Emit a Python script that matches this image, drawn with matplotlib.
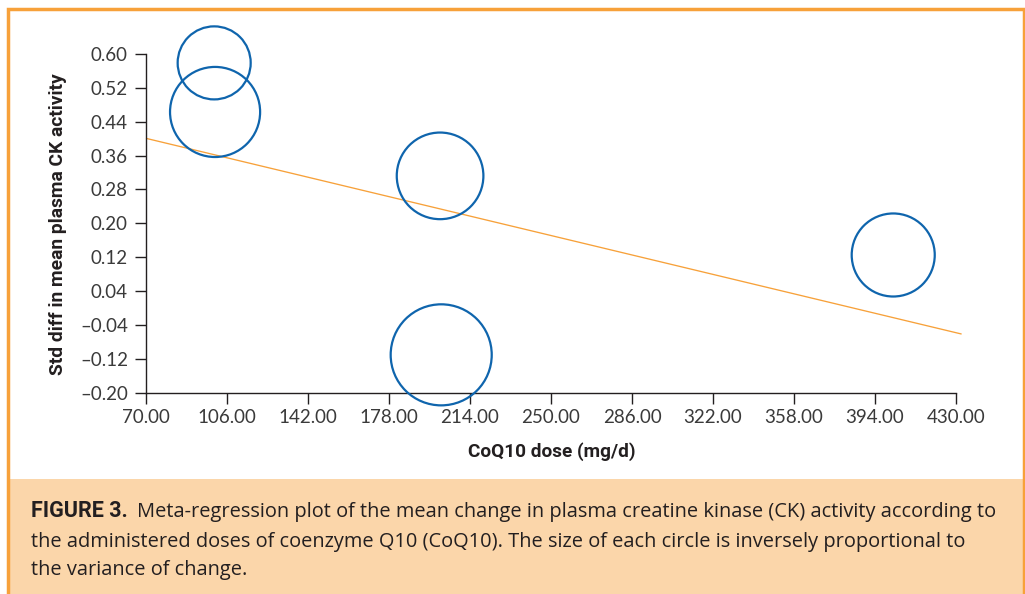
import matplotlib
matplotlib.use("Agg")
import matplotlib.pyplot as plt
from matplotlib.patches import Rectangle

# Study-level results: CoQ10 dose (mg/d) vs standardized difference in mean CK change
dose = [100.3, 100.7, 200.7, 201.2, 402.1]
std_diff = [0.579, 0.463, 0.312, -0.111, 0.125]
# Relative study weights (%) -> circle area
weight = [14.0, 21.3, 19.7, 26.8, 18.1]

# Meta-regression fit
reg_intercept = 0.490
reg_slope = -0.001276
reg_dose_range = [70, 432.5]

x_ticks = [70, 106, 142, 178, 214, 250, 286, 322, 358, 394, 430]
y_ticks = [-0.20, -0.12, -0.04, 0.04, 0.12, 0.20, 0.28, 0.36, 0.44, 0.52, 0.60]

x_label = "CoQ10 dose (mg/d)"
y_label = "Std diff in mean plasma CK activity"
caption_head = "FIGURE 3."
caption_lines = [
    "Meta-regression plot of the mean change in plasma creatine kinase (CK) activity according to",
    "the administered doses of coenzyme Q10 (CoQ10). The size of each circle is inversely proportional to",
    "the variance of change.",
]

W, H = 1025, 594
BLUE = "#0f65ad"
ORANGE = "#f7a13a"
PEACH = "#fbd6aa"
INK = "#231f20"
TICK_INK = "#3a3a3a"


def fx(px):
    return px / W


def fy(py):
    return 1 - py / H


fig = plt.figure(figsize=(W / 100, H / 100), dpi=100)
fig.patch.set_facecolor("white")

# Plot area in pixel layout
ax_left, ax_right = 146, 965
ax_top, ax_bottom = 54, 392.5
ax = fig.add_axes([fx(ax_left), fy(ax_bottom), (ax_right - ax_left) / W, (ax_bottom - ax_top) / H])
ax.patch.set_alpha(0)

ax.set_xlim(70, 434)
ax.set_ylim(-0.20, 0.60)

# Regression line
rx = reg_dose_range
ry = [reg_intercept + reg_slope * v for v in rx]
ax.plot(rx, ry, color=ORANGE, lw=0.95, zorder=2, clip_on=False, solid_capstyle="butt")

# Bubbles, area proportional to weight
size_scale = 197.5
ax.scatter(dose, std_diff, s=[w * size_scale for w in weight], facecolors="none",
           edgecolors=BLUE, linewidths=1.6, zorder=3, clip_on=False)

for side in ("top", "right"):
    ax.spines[side].set_visible(False)
for side in ("left", "bottom"):
    ax.spines[side].set_color(INK)
    ax.spines[side].set_linewidth(1.0)
ax.spines["left"].set_bounds(-0.20, 0.60)
ax.spines["bottom"].set_bounds(70, 430)

ax.set_xticks(x_ticks)
ax.set_xticklabels([f"{v:.2f}" for v in x_ticks])
ax.set_yticks(y_ticks)
ax.set_yticklabels([f"{v:.2f}".replace("-", "\u2013") for v in y_ticks])
ax.tick_params(axis="both", direction="out", length=7.7, width=1.0, color=INK,
               labelcolor=TICK_INK, labelsize=13.5)
ax.tick_params(axis="y", pad=5.3)
ax.tick_params(axis="x", pad=4.5)
for lab in ax.get_xticklabels() + ax.get_yticklabels():
    lab.set_fontfamily(["Lato", "DejaVu Sans"])
    lab.set_fontweight("normal")

# Axis titles
fig.text(fx(552), fy(452), x_label, ha="center", va="center", fontsize=13.7,
         fontweight="bold", family=["Roboto", "DejaVu Sans"], color=INK)
fig.text(fx(58), fy(224), y_label, ha="center", va="center", rotation=90, fontsize=13.9,
         fontweight="bold", family=["Roboto", "DejaVu Sans"], color=INK)

# Caption panel and orange frame
fig.patches.append(Rectangle((fx(8), 0), fx(1023.5) - fx(8), fy(479), transform=fig.transFigure,
                             facecolor=PEACH, edgecolor="none", zorder=1))
fig.patches.append(Rectangle((fx(8), fy(600)), fx(1023.5) - fx(8), fy(9) - fy(600),
                             transform=fig.transFigure, facecolor="none", edgecolor=ORANGE,
                             linewidth=2.5, zorder=2))

baselines = [516.7, 546.7, 575.5]
cap_font = dict(fontsize=14.4, family=["Open Sans", "DejaVu Sans"], color=INK, va="baseline", ha="left")
head = fig.text(fx(31), fy(baselines[0]), caption_head, fontsize=15.5, fontweight="bold",
                family=["Roboto", "DejaVu Sans"], color=INK, va="baseline", ha="left", zorder=3)
renderer = fig.canvas.get_renderer()
bb = head.get_window_extent(renderer)
fig.text((bb.x1 + 9) / W, fy(baselines[0]), caption_lines[0], zorder=3, **cap_font)
fig.text(fx(31), fy(baselines[1]), caption_lines[1], zorder=3, **cap_font)
fig.text(fx(31), fy(baselines[2]), caption_lines[2], zorder=3, **cap_font)

fig.savefig("out.png", dpi=100, facecolor=fig.get_facecolor())
